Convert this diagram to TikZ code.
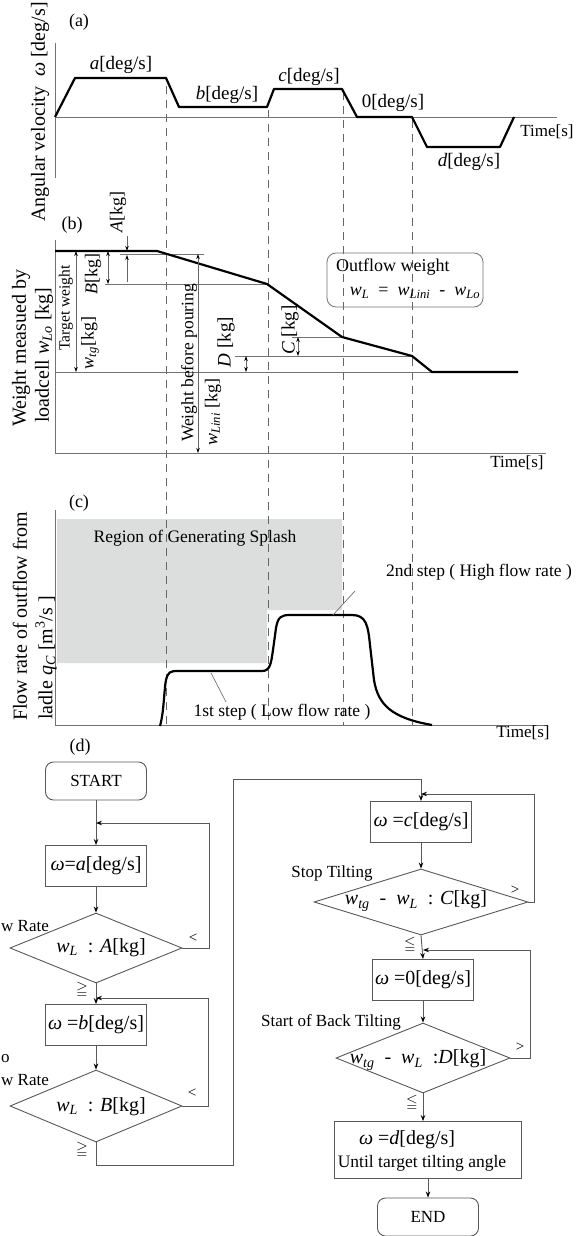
\documentclass[tikz,border=0pt]{standalone}
\usepackage{fontspec}
\usepackage{amssymb}
\setmainfont{Liberation Serif}
\usetikzlibrary{arrows.meta,shapes.geometric}
\newcommand{\fsz}[1]{\fontsize{#1}{#1}\selectfont}
\newcommand{\wsub}[1]{\textit{w}\textsubscript{\textit{#1}}}
\begin{document}
\begin{tikzpicture}[x=1pt,y=-1pt,
  txt/.style={inner sep=0pt, font=\fsz{17}},
  lab/.style={inner sep=0pt, font=\fsz{19}},
  boxtxt/.style={inner sep=0pt, font=\fsz{20}},
  axisline/.style={draw=black!55, line width=0.9pt},
  thinline/.style={draw=black!55, line width=0.7pt},
  curve/.style={draw=black, line width=2.2pt, line join=round},
  guide/.style={draw=black!60, line width=0.8pt, dash pattern=on 8pt off 6pt},
  dimarrow/.style={draw=black!60, line width=0.7pt, {Stealth[length=5pt,width=3.5pt,black]}-{Stealth[length=5pt,width=3.5pt,black]}},
  onearrow/.style={draw=black!60, line width=0.7pt, -{Stealth[length=5pt,width=3.5pt,black]}},
  pbox/.style={draw=black!65, line width=0.9pt, minimum width=101pt, minimum height=41pt, inner sep=0pt, font=\fsz{20}},
  term/.style={pbox, rounded corners=8pt, minimum height=38pt, font=\fsz{17}},
  dia/.style={diamond, draw=black!65, line width=0.9pt, inner sep=0pt},
  flow/.style={draw=black!65, line width=0.9pt, -{Stealth[length=6pt,width=4.5pt,black]}}
]
\useasboundingbox (0,0) rectangle (576,1236);
\fill[white] (0,0) rectangle (576,1236);

% ---------- (c) grey region (background) ----------
\fill[fill={rgb,255:red,220;green,222;blue,222}] (57,519) -- (342,519) -- (342,610) -- (267,610) -- (267,663) -- (57,663) -- cycle;

% ---------- dashed guides ----------
\draw[guide] (166,86) -- (166,725);
\draw[guide] (268,110) -- (268,725);
\draw[guide] (343,92) -- (343,725);
\draw[guide] (412,120) -- (412,725);

% ---------- (a) ----------
\node[lab, font=\fsz{18}] (tagA) at (79,22) {(a)};
\draw[axisline] (55,43) -- (55,178);
\draw[axisline] (55,117) -- (557,117);
\node[lab, font=\fsz{20}, rotate=90, anchor=west] (yA) at (40,222) {Angular velocity~~\textit{ω} [deg/s]};
\node[txt] (tA) at (547,132) {Time[s]};
\draw[curve] (55,117) -- (75,78) -- (166,78) -- (179,107) -- (267,107) -- (274,89) -- (342,89) -- (357,117) -- (412,117) -- (427,147) -- (500,147) -- (514,117);
\node[lab] (va) at (121,65) {\textit{a}[deg/s]};
\node[lab] (vb) at (227,95) {\textit{b}[deg/s]};
\node[lab] (vc) at (309,77) {\textit{c}[deg/s]};
\node[lab] (v0) at (393,103) {0[deg/s]};
\node[lab] (vd) at (469,162) {\textit{d}[deg/s]};

% ---------- (b) ----------
\node[lab, font=\fsz{18}] (tagB) at (72,225) {(b)};
\draw[axisline] (55,240) -- (55,453) -- (546,453);
\node[txt] (tB) at (517,463) {Time[s]};
\node[lab, font=\fsz{20}, rotate=90, anchor=west] (yB1) at (21,427) {Weight measued by};
\node[lab, font=\fsz{20}, rotate=90, anchor=west] (yB2) at (44,423) {loadcell \wsub{Lo} [kg]};
\draw[thinline] (55,372) -- (432,372);
\draw[thinline] (120,254) -- (204,254);
\draw[thinline] (105,284) -- (267,284);
\draw[thinline] (292,337) -- (342,337);
\draw[thinline] (235,356) -- (412,356);
\draw[curve] (55,251) -- (157,251) -- (267,284) -- (342,337) -- (412,356) -- (432,372) -- (518,372);
\draw[dimarrow] (76,251) -- (76,372);
\draw[dimarrow] (108,251) -- (108,284);
\draw[dimarrow] (198,254) -- (198,453);
\draw[dimarrow] (298,337) -- (298,356);
\draw[dimarrow] (246,356) -- (246,372);
\draw[onearrow] (127,236) -- (127,251);
\draw[onearrow] (127,282) -- (127,255);
\node[lab, font=\fsz{18}, rotate=90] (nA) at (118,212) {\textit{A}[kg]};
\node[lab, font=\fsz{18}, rotate=90] (nB) at (93,274) {\textit{B}[kg]};
\node[lab, font=\fsz{15.5}, rotate=90] (nT) at (66,308) {Target weight};
\node[lab, font=\fsz{18}, rotate=90] (nTg) at (90,343) {\wsub{tg}[kg]};
\node[lab, font=\fsz{17.5}, rotate=90] (nW) at (189,363) {Weight before pouring};
\node[lab, font=\fsz{18}, rotate=90] (nWi) at (213,412) {\wsub{Lini} [kg]};
\node[lab, rotate=90] (nD) at (226,342) {\textit{D} [kg]};
\node[lab, rotate=90] (nC) at (290,330) {\textit{C} [kg]};
\node[draw=black!55, line width=0.8pt, rounded corners=9pt, minimum width=156pt, minimum height=54pt, inner sep=0pt] (ob) at (405,280) {};
\node[lab, font=\fsz{18}, anchor=west] (obt) at (336,267) {Outflow weight};
\node[lab, font=\fsz{18}] (obf) at (415,293) {\wsub{L}~~=~~\wsub{Lini}~~-~~\wsub{Lo}};

% ---------- (c) ----------
\node[lab, font=\fsz{18}] (tagC) at (79,503) {(c)};
\draw[axisline] (55,510) -- (55,725) -- (547,725);
\node[txt] (tC) at (523,733) {Time[s]};
\node[lab, font=\fsz{20}, rotate=90, anchor=west] (yC1) at (20,721) {Flow rate of outflow from};
\node[lab, font=\fsz{20}, rotate=90, anchor=west] (yC2) at (46,720) {ladle \textit{q}\textsubscript{\textit{C}} [m\textsuperscript{3}/s ]};
\draw[curve] (160,726) .. controls (164,712) and (164,690) .. (166,680) .. controls (168,672) and (170,671) .. (178,671) -- (262,671) .. controls (270,671) and (271,664) .. (273,650) -- (276,628) .. controls (278,617) and (281,615) .. (290,615) -- (352,615) .. controls (366,615) and (368,625) .. (370,645) -- (374,680) .. controls (378,705) and (392,718) .. (432,725);
\node[txt, font=\fsz{17.5}] (reg) at (195,538) {Region of Generating Splash};
\node[txt, font=\fsz{17.5}] (s2) at (479,572) {2nd step ( High flow rate )};
\node[txt, font=\fsz{17.5}] (s1) at (282,712) {1st step ( Low flow rate )};
\coordinate (l1a) at (211,673);
\coordinate (l1b) at (226,702);
\coordinate (l2a) at (333,615);
\coordinate (l2b) at (355,591);
\draw[thinline] (l1a) -- (l1b);
\draw[thinline] (l2a) -- (l2b);

% ---------- (d) flowchart ----------
\node[lab, font=\fsz{18}] (tagD) at (80,747) {(d)};
\node[term] (start) at (96,781) {START};
\node[pbox] (ba) at (96,866) {\textit{ω}=\textit{a}[deg/s]};
\node[dia, minimum width=172pt, minimum height=70pt] (da) at (96,948) {};
\node[boxtxt] (dat) at (101,948) {\wsub{L}~~: \textit{A}[kg]};
\node[pbox] (bb) at (96,1025) {\textit{ω} =\textit{b}[deg/s]};
\node[dia, minimum width=172pt, minimum height=72pt] (db) at (96,1106) {};
\node[boxtxt] (dbt) at (101,1107) {\wsub{L}~~: \textit{B}[kg]};

\node[pbox] (bc) at (421,822) {\textit{ω} =\textit{c}[deg/s]};
\node[dia, minimum width=214pt, minimum height=66pt] (dc) at (421,902) {};
\node[boxtxt] (dct) at (416,901) {\wsub{tg}~~-~~\wsub{L}~~: \textit{C}[kg]};
\node[pbox] (b0) at (423,980) {\textit{ω} =0[deg/s]};
\node[dia, minimum width=174pt, minimum height=70pt] (dd) at (423,1058) {};
\node[boxtxt] (ddt) at (418,1060) {\wsub{tg}~~-~~\wsub{L}~~:\textit{D}[kg]};
\node[draw=black!65, line width=0.9pt, minimum width=187pt, minimum height=57pt, inner sep=0pt] (bd) at (428,1150) {};
\node[boxtxt] (bdt1) at (407,1140) {\textit{ω} =\textit{d}[deg/s]};
\node[txt, font=\fsz{17.5}] (bdt2) at (422,1163) {Until target tilting angle};
\node[term] (end) at (428,1217) {END};

\coordinate (ma) at (96,823);
\coordinate (mb) at (96,998);
\coordinate (mc) at (421,794);
\coordinate (md) at (423,950);
\coordinate (j1) at (233,779);

\draw[flow] (start.south) -- (ba.north);
\draw[flow] (ba.south) -- (da.north);
\draw[flow] (da.east) -- ++(27,0) |- (ma);
\draw[flow] (da.south) -- (bb.north);
\draw[flow] (bb.south) -- (db.north);
\draw[flow] (db.east) -- ++(26,0) |- (mb);
\draw[flow] (db.south) -- ++(0,23) -| (j1) -| (bc.north);
\draw[flow] (bc.south) -- (dc.north);
\draw[flow] (dc.east) -- ++(6,0) |- (mc);
\draw[flow] (dc.south) -- (b0.north);
\draw[flow] (b0.south) -- (dd.north);
\draw[flow] (dd.east) -- ++(20,0) |- (md);
\draw[flow] (dd.south) -- (dd.south |- bd.north);
\draw[flow] (bd.south) -- (end.north);

\node[txt, font=\fsz{15}] (ltA) at (193,938) {<};
\node[txt, font=\fsz{15}] (ltB) at (192,1093) {<};
\node[txt, font=\fsz{15}] (gtC) at (515,890) {>};
\node[txt, font=\fsz{15}] (gtD) at (520,1047) {>};
\node[txt, font=\fsz{15}] (geA) at (82,990) {$\geqq$};
\node[txt, font=\fsz{15}] (geB) at (82,1150) {$\geqq$};
\node[txt, font=\fsz{15}] (leC) at (410,945) {$\leqq$};
\node[txt, font=\fsz{15}] (leD) at (412,1103) {$\leqq$};

\node[txt] (stop) at (332,873) {Stop Tilting};
\node[txt] (back) at (331,1022) {Start of Back Tilting};
\node[txt, anchor=west] (cutA) at (1,926) {w Rate};
\node[txt, anchor=west] (cutB1) at (1,1059) {o};
\node[txt, anchor=west] (cutB2) at (1,1080) {w Rate};
\end{tikzpicture}
\end{document}
